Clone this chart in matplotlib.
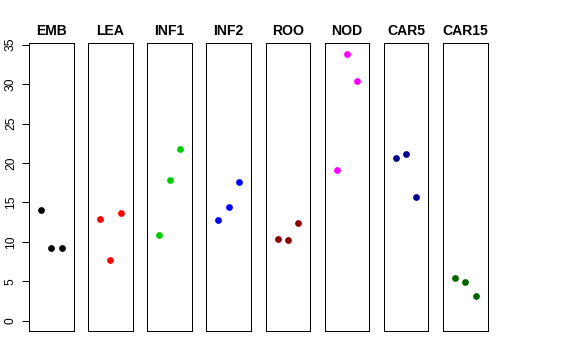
import matplotlib
matplotlib.use("Agg")
import matplotlib.pyplot as plt

tissues = ["EMB", "LEA", "INF1", "INF2", "ROO", "NOD", "CAR5", "CAR15"]
colors = ["#000000", "#FF0000", "#00CD00", "#0000FF", "#8B0000", "#FF00FF", "#00008B", "#006400"]
values = {
    "EMB": [14.0, 9.26, 9.26],
    "LEA": [12.93, 7.70, 13.62],
    "INF1": [10.83, 17.80, 21.77],
    "INF2": [12.81, 14.38, 17.55],
    "ROO": [10.32, 10.23, 12.35],
    "NOD": [19.07, 33.86, 30.36],
    "CAR5": [20.67, 21.14, 15.65],
    "CAR15": [5.45, 4.87, 3.09],
}
reps = [1, 2, 3]
yticks = [0, 5, 10, 15, 20, 25, 30, 35]

plt.rcParams['font.family'] = ['Liberation Sans', 'DejaVu Sans']
W, H = 576, 360
fig = plt.figure(figsize=(W / 72, H / 72), dpi=72)

left0, step, pw = 29.0, 59.15, 44.5
top, bottom = 43.3, 330.7
for i, (t, c) in enumerate(zip(tissues, colors)):
    l = left0 + i * step
    ax = fig.add_axes([l / W, (H - bottom) / H, pw / W, (bottom - top) / H])
    ax.scatter(reps, values[t], color=c, s=46, zorder=3, linewidths=0)
    ax.set_xlim(-0.16, 4.16)
    ax.set_ylim(-1.27, 35.18)
    ax.set_xticks([])
    ax.set_title(t, fontsize=14, fontweight='bold', pad=8)
    for sp in ax.spines.values():
        sp.set_linewidth(1.0)
        sp.set_color('black')
    if i == 0:
        ax.set_yticks(yticks)
        ax.set_yticklabels([str(v) for v in yticks], rotation=90, va='center', fontsize=12)
        ax.tick_params(axis='y', length=7, width=1, pad=5)
    else:
        ax.set_yticks([])

fig.savefig("out.png", dpi=72)
